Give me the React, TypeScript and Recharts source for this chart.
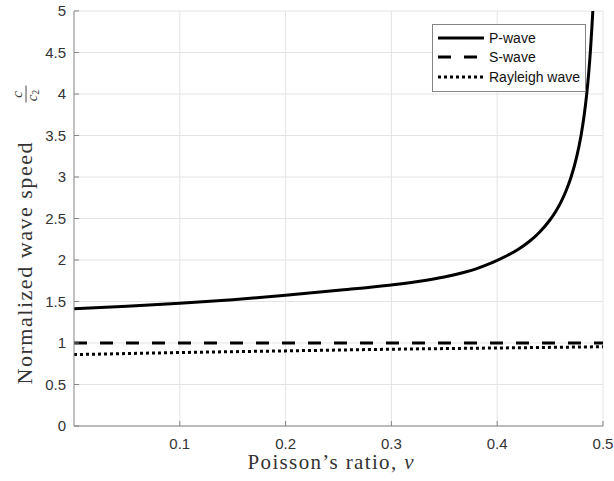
import React from 'react';
import { LineChart, Line, XAxis, YAxis, CartesianGrid, Legend } from 'recharts';

// Poisson's ratio samples for the P-wave curve and the speed read at each one
const pWaveNu = [
  0, 0.05, 0.1, 0.15, 0.2, 0.25, 0.3, 0.33, 0.35, 0.37, 0.38, 0.39, 0.4, 0.41, 0.42, 0.43, 0.44,
  0.45, 0.455, 0.46, 0.465, 0.47, 0.475, 0.4792, 0.482, 0.4846, 0.4865, 0.4883, 0.4895, 0.4904,
];
const pWaveSpeed = [
  1.414, 1.443, 1.478, 1.522, 1.575, 1.635, 1.7, 1.75, 1.795, 1.855, 1.893, 1.94, 1.995, 2.057, 2.13, 2.22, 2.335,
  2.485, 2.579, 2.692, 2.831, 3.006, 3.236, 3.496, 3.726, 3.999, 4.254, 4.556, 4.803, 5.0,
];

const sWaveNu = [0, 0.5];
const sWaveSpeed = [1, 1];

const rayleighNu = [0, 0.1, 0.2, 0.3, 0.4, 0.5];
const rayleighSpeed = [0.86, 0.885, 0.905, 0.925, 0.94, 0.955];

const xTicks = [0.1, 0.2, 0.3, 0.4, 0.5];
const yTicks = [0, 0.5, 1, 1.5, 2, 2.5, 3, 3.5, 4, 4.5, 5];

const seriesNames = ['P-wave', 'S-wave', 'Rayleigh wave'];

const toPoints = (xs: number[], ys: number[]) => xs.map((nu, i) => ({ nu, speed: ys[i] }));

const pWave = toPoints(pWaveNu, pWaveSpeed);
const sWave = toPoints(sWaveNu, sWaveSpeed);
const rayleigh = toPoints(rayleighNu, rayleighSpeed);

const AXIS = '#858585';
const TEXT = '#333333';
const GRID = '#e4e4e4';
const SANS = '"Liberation Sans", Arial, sans-serif';
const SERIF = '"Liberation Serif", "Times New Roman", serif';

const dashes = ['', '13 13', '3 3'];

const YTitle = ({ viewBox }: any) => {
  const cx = viewBox.x + 11;
  const cy = viewBox.y + viewBox.height / 2 + 16;
  return (
    <g transform={`translate(${cx}, ${cy}) rotate(-90)`} fill={TEXT} fontFamily={SERIF}>
      <text x={-150} y={7} fontSize={22} textLength={242} lengthAdjust="spacing">
        Normalized wave speed
      </text>
      <text x={140} y={-3} fontSize={15} fontStyle="italic" textAnchor="middle">c</text>
      <line x1={132} x2={149} y1={1} y2={1} stroke={TEXT} strokeWidth={0.9} />
      <text x={139} y={12} fontSize={15} fontStyle="italic" textAnchor="middle">
        c<tspan fontSize={10} fontStyle="normal" dy={2}>2</tspan>
      </text>
    </g>
  );
};

const XTitle = ({ viewBox }: any) => {
  const cx = viewBox.x + viewBox.width / 2 - 8;
  return (
    <text x={cx} y={viewBox.y + 43} textAnchor="middle" fontSize={21} fontFamily={SERIF} fill={TEXT} textLength={166} lengthAdjust="spacing">
      Poisson’s ratio, <tspan fontStyle="italic">ν</tspan>
    </text>
  );
};

const LegendBox = () => (
  <div
    style={{
      border: `1px solid ${AXIS}`,
      background: '#fff',
      padding: '3px 0 4px 0',
      fontFamily: SANS,
      fontSize: 14,
      color: '#111',
    }}
  >
    {seriesNames.map((name, i) => (
      <div key={name} style={{ display: 'flex', alignItems: 'center', height: 19.5 }}>
        <svg width={52} height={8} style={{ flex: 'none' }}>
          <line x1={5} x2={51} y1={4} y2={4} stroke="#000" strokeWidth={3} strokeDasharray={dashes[i] || undefined} />
        </svg>
        <span style={{ marginLeft: 4, whiteSpace: 'nowrap' }}>{name}</span>
      </div>
    ))}
  </div>
);

export default function App() {
  return (
    <div style={{ position: 'absolute', left: 0, top: 0, background: '#fff' }}>
      <LineChart width={614} height={481} margin={{ top: 11, right: 11, bottom: 15, left: 14 }}>
        <CartesianGrid stroke={GRID} horizontalValues={yTicks} verticalValues={xTicks} />
        <XAxis
          dataKey="nu"
          type="number"
          domain={[0, 0.5]}
          ticks={xTicks}
          height={40}
          stroke={AXIS}
          tickSize={-5}
          tickMargin={17}
          tick={{ fill: TEXT, fontSize: 15, fontFamily: SANS }}
          allowDataOverflow
          label={<XTitle />}
        />
        <XAxis xAxisId="top" orientation="top" type="number" domain={[0, 0.5]} ticks={xTicks} height={0} stroke={AXIS} tickSize={-5} tick={false} />
        <YAxis
          type="number"
          domain={[0, 5]}
          ticks={yTicks}
          width={60}
          stroke={AXIS}
          tickSize={-5}
          tickMargin={13}
          tick={{ fill: TEXT, fontSize: 15, fontFamily: SANS }}
          allowDataOverflow
          label={<YTitle />}
        />
        <YAxis yAxisId="right" orientation="right" type="number" domain={[0, 5]} ticks={yTicks} width={0} stroke={AXIS} tickSize={-5} tick={false} />
        <Legend
          layout="horizontal"
          verticalAlign="middle"
          align="center"
          content={<LegendBox />}
          wrapperStyle={{ left: 432, top: 24, width: 154, height: 'auto' }}
        />
        <Line data={pWave} dataKey="speed" name={seriesNames[0]} type="monotone" stroke="#000" strokeWidth={3} dot={false} isAnimationActive={false} />
        <Line data={sWave} dataKey="speed" name={seriesNames[1]} type="linear" stroke="#000" strokeWidth={3} strokeDasharray="13 13" dot={false} isAnimationActive={false} />
        <Line data={rayleigh} dataKey="speed" name={seriesNames[2]} type="monotone" stroke="#000" strokeWidth={3} strokeDasharray="3 3" dot={false} isAnimationActive={false} />
      </LineChart>
    </div>
  );
}
